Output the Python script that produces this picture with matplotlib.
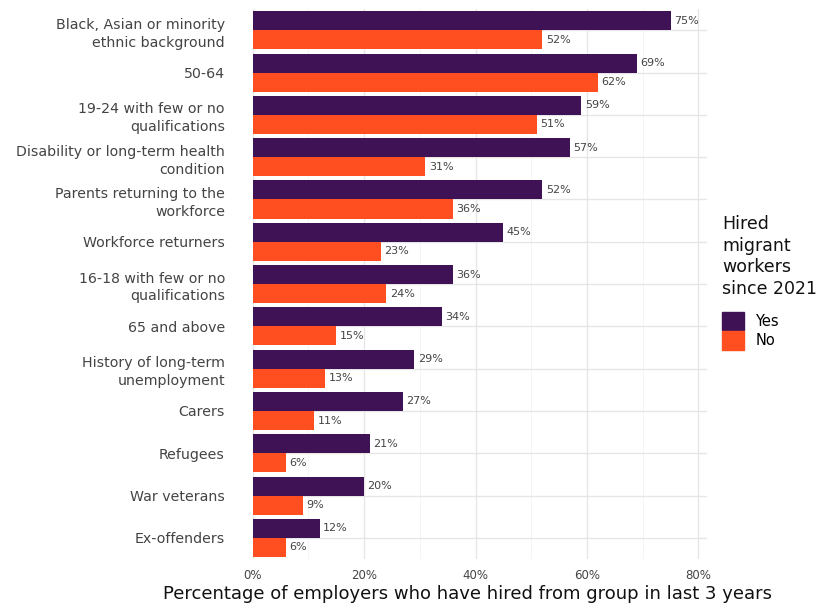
import matplotlib
matplotlib.use("Agg")
import matplotlib.pyplot as plt
import numpy as np
from matplotlib.patches import Patch
from matplotlib.ticker import MultipleLocator

categories = [
    "Black, Asian or minority\nethnic background",
    "50-64",
    "19-24 with few or no\nqualifications",
    "Disability or long-term health\ncondition",
    "Parents returning to the\nworkforce",
    "Workforce returners",
    "16-18 with few or no\nqualifications",
    "65 and above",
    "History of long-term\nunemployment",
    "Carers",
    "Refugees",
    "War veterans",
    "Ex-offenders",
]
yes_vals = [75, 69, 59, 57, 52, 45, 36, 34, 29, 27, 21, 20, 12]
no_vals = [52, 62, 51, 31, 36, 23, 24, 15, 13, 11, 6, 9, 6]
xticks = [0, 20, 40, 60, 80]
xtick_labels = ["0%", "20%", "40%", "60%", "80%"]

purple = "#3E1254"
orange = "#FF4E20"
txt = "#444444"

plt.rcParams["font.family"] = ["DejaVu Sans"]

fig = plt.figure(figsize=(8.18, 6.07), dpi=100)
ax = fig.add_axes([0.309, 0.079, 0.555, 0.906])

n = len(categories)
y = np.arange(n)
h = 0.45
ax.barh(y - h / 2, yes_vals, height=h, color=purple, zorder=3)
ax.barh(y + h / 2, no_vals, height=h, color=orange, zorder=3)

for i in range(n):
    ax.text(yes_vals[i] + 0.6, y[i] - h / 2, f"{yes_vals[i]}%", va="center", ha="left",
            fontsize=8, color=txt)
    ax.text(no_vals[i] + 0.6, y[i] + h / 2, f"{no_vals[i]}%", va="center", ha="left",
            fontsize=8, color=txt)

ax.set_ylim(n - 0.5, -0.5)
ax.set_xlim(0, 81.5)
ax.set_yticks(y)
ax.set_yticklabels(categories, fontsize=10.2, color=txt, linespacing=1.35)
ax.set_xticks(xticks)
ax.set_xticklabels(xtick_labels, fontsize=8.5, color=txt)
ax.xaxis.set_minor_locator(MultipleLocator(10))
ax.grid(axis="x", which="major", color="#E6E6E6", linewidth=1.0, zorder=0)
ax.grid(axis="x", which="minor", color="#F2F2F2", linewidth=0.6, zorder=0)
ax.grid(axis="y", which="major", color="#E6E6E6", linewidth=1.0, zorder=0)
for s in ax.spines.values():
    s.set_visible(False)
ax.tick_params(axis="both", which="both", length=0)
ax.tick_params(axis="y", pad=20)
ax.tick_params(axis="x", pad=7)
ax.set_xlabel("Percentage of employers who have hired from group in last 3 years",
              fontsize=13, color="#111111")
ax.xaxis.set_label_coords(0.472, -0.047, transform=ax.transAxes)
ax.xaxis.label.set_va("top")

handles = [Patch(color=purple, label="Yes"), Patch(color=orange, label="No")]
leg = fig.legend(handles=handles, title="Hired\nmigrant\nworkers\nsince 2021",
                 loc="upper left", bbox_to_anchor=(0.876, 0.655), frameon=False,
                 fontsize=10.5, title_fontsize=12.5, handlelength=1.45, handleheight=1.55,
                 handletextpad=0.8, labelspacing=0.1, borderaxespad=0)
leg._legend_box.align = "left"
leg._legend_box.sep = 10
leg.get_title().set_color("#111111")
leg.get_title().set_linespacing(1.25)

fig.savefig("out.png", dpi=100)
